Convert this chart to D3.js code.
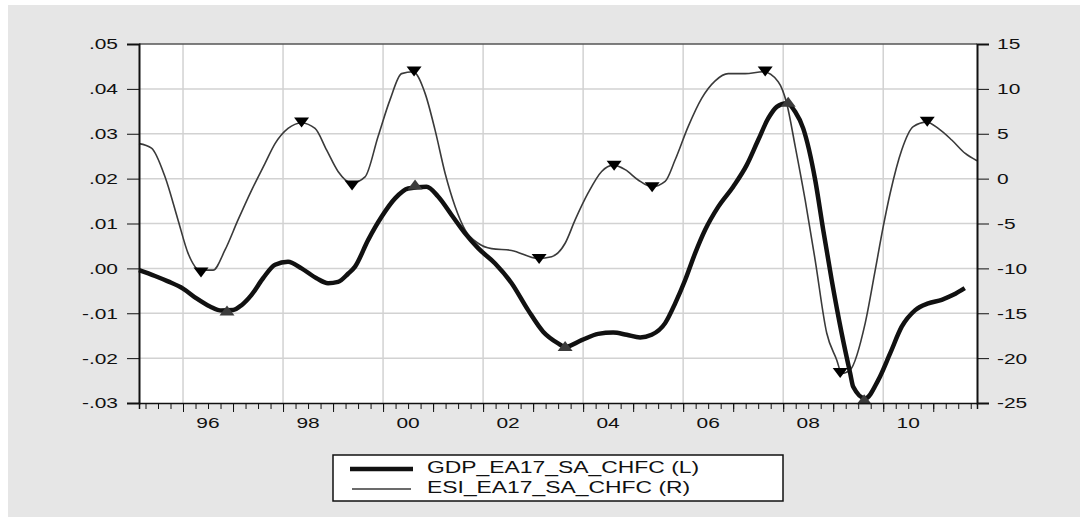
<!DOCTYPE html>
<html>
<head>
<meta charset="utf-8">
<script src="https://d3js.org/d3.v7.min.js"></script>
<style>
   body { margin: 0; background: #fff; }
   svg text { font-family: "Liberation Sans", Arial, sans-serif; fill: #111; }
   .grid line { stroke: #d2d2d2; stroke-width: 1.5; }
   .axis path, .axis line { stroke: #111; }
</style>
</head>
<body>
<script>
// GDP (left axis), decimal year / value
var gdpDates = [1995.12, 1995.44, 1995.7, 1996.0, 1996.27, 1996.54, 1996.77, 1997.0, 1997.17, 1997.37,
   1997.6, 1997.84, 1998.1, 1998.37, 1998.67, 1998.9, 1999.1, 1999.3, 1999.44, 1999.7,
   1999.97, 2000.24, 2000.5, 2000.87, 2001.1, 2001.37, 2001.64, 2001.9, 2002.24, 2002.57,
   2002.9, 2003.2, 2003.5, 2003.64, 2003.97, 2004.3, 2004.6, 2004.87, 2005.14, 2005.37,
   2005.64, 2005.84, 2006.04, 2006.24, 2006.44, 2006.7, 2007.0, 2007.27, 2007.5, 2007.7,
   2007.87, 2008.07, 2008.24, 2008.4, 2008.64, 2008.8, 2008.97, 2009.17, 2009.34, 2009.4,
   2009.64, 2009.9, 2010.14, 2010.37, 2010.64, 2010.9, 2011.17, 2011.4, 2011.63];
var gdpValues = [-0.0004, -0.0017, -0.0029, -0.0045, -0.0067, -0.0085, -0.0094, -0.0093, -0.0082, -0.0059,
   -0.0022, 0.0008, 0.0015, 0.0000, -0.0022, -0.0033, -0.0030, -0.0012, 0.0004, 0.0063,
   0.0115, 0.0156, 0.0178, 0.0182, 0.0160, 0.0119, 0.0078, 0.0045, 0.0011, -0.0033,
   -0.0093, -0.0141, -0.0167, -0.0175, -0.0160, -0.0146, -0.0143, -0.0148, -0.0154, -0.0148,
   -0.0122, -0.0078, -0.0026, 0.0034, 0.0086, 0.0137, 0.0182, 0.0230, 0.0286, 0.0334,
   0.0360, 0.0368, 0.0349, 0.0312, 0.0197, 0.0086, -0.0026, -0.0145, -0.0234, -0.0264,
   -0.0290, -0.0249, -0.0189, -0.0130, -0.0093, -0.0078, -0.0070, -0.0059, -0.0044];

// ESI (right axis)
var esiDates = [1995.12, 1995.37, 1995.64, 1995.9, 1996.1, 1996.34, 1996.6, 1996.84, 1997.1, 1997.37,
   1997.64, 1997.84, 1998.1, 1998.37, 1998.64, 1998.87, 1999.1, 1999.37, 1999.64, 1999.9,
   2000.14, 2000.37, 2000.6, 2000.84, 2001.04, 2001.24, 2001.44, 2001.64, 2001.9, 2002.17,
   2002.57, 2003.1, 2003.37, 2003.64, 2003.84, 2004.1, 2004.37, 2004.6, 2004.84, 2005.1,
   2005.37, 2005.64, 2005.84, 2006.1, 2006.37, 2006.64, 2006.9, 2007.24, 2007.6, 2007.9,
   2008.07, 2008.24, 2008.44, 2008.64, 2008.87, 2009.07, 2009.17, 2009.34, 2009.64, 2009.84,
   2010.0, 2010.14, 2010.37, 2010.6, 2010.87, 2011.1, 2011.37, 2011.64, 2011.875];
var esiValues = [3.9, 3.4, 0.2, -4.6, -8.3, -10.2, -10.2, -7.95, -4.6, -1.3,
   1.7, 3.9, 5.6, 6.2, 5.6, 3.2, 0.8, -0.5, 0.2, 4.7,
   8.8, 11.7, 11.9, 9.5, 5.4, 0.6, -3.1, -5.7, -7.2, -7.8,
   -8.0, -8.9, -8.7, -7.2, -4.6, -1.6, 0.8, 1.5, 1.0, -0.15,
   -0.9, -0.3, 2.1, 5.8, 8.95, 10.9, 11.7, 11.7, 11.9, 10.8,
   8.4, 3.6, -2.4, -9.1, -17.2, -20.2, -21.7, -21.3, -16.1, -10.2,
   -5.35, -1.6, 3.2, 5.8, 6.3, 5.6, 4.3, 2.8, 2.0];

// turning point markers
var esiTurnDates = [1996.36, 1998.37, 1999.38, 2000.62, 2003.12, 2004.62, 2005.38, 2007.64, 2009.14, 2010.88];
var esiTurnValues = [-10.4, 6.3, -0.7, 12.0, -8.9, 1.5, -0.9, 12.0, -21.6, 6.4];
var gdpTurnDates = [1996.88, 2000.64, 2003.64, 2008.1, 2009.62];
var gdpTurnValues = [-0.0095, 0.0186, -0.0174, 0.037, -0.0293];

// axis ticks
var leftTicks = [-0.03, -0.02, -0.01, 0, 0.01, 0.02, 0.03, 0.04, 0.05];
var rightTicks = [-25, -20, -15, -10, -5, 0, 5, 10, 15];
var yearTicks = d3.range(1996, 2012);
var yearLabels = ["96", "98", "00", "02", "04", "06", "08", "10"];
var legendLabels = ["GDP_EA17_SA_CHFC (L)", "ESI_EA17_SA_CHFC (R)"];

var W = 1089, H = 527;
var plot = { left: 139, right: 977, top: 44, bottom: 403 };
var stretch = 1.35; // eviews text is drawn wide

var x = d3.scaleLinear().domain([1995.12, 2011.875]).range([plot.left, plot.right]);
var yL = d3.scaleLinear().domain([-0.03, 0.05]).range([plot.bottom, plot.top]);
var yR = d3.scaleLinear().domain([-25, 15]).range([plot.bottom, plot.top]);

var fmtL = function(d) {
   var s = d3.format(".2f")(Math.abs(d)).replace(/^0/, "");
   return (d < -1e-9 ? "-" : "") + s;
};
var fmtR = function(d) {
   return (d < 0 ? "-" : "") + Math.abs(d);
};

var svg = d3
   .select("body")
   .append("svg")
   .attr("width", W)
   .attr("height", H);

// grey panel
svg.append("rect")
   .attr("x", 8).attr("y", 5)
   .attr("width", 1072).attr("height", 512)
   .attr("fill", "#e6e6e6");

// plot background
svg.append("rect")
   .attr("x", plot.left).attr("y", plot.top)
   .attr("width", plot.right - plot.left)
   .attr("height", plot.bottom - plot.top)
   .attr("fill", "#fff");

// gridlines
var grid = svg.append("g").attr("class", "grid");
grid.selectAll(".hg")
   .data(leftTicks.slice(1, -1))
   .enter()
   .append("line")
   .attr("x1", plot.left).attr("x2", plot.right)
   .attr("y1", function(d) { return yL(d); })
   .attr("y2", function(d) { return yL(d); });
grid.selectAll(".vg")
   .data(yearTicks.filter(function(d) { return d % 2 === 0; }))
   .enter()
   .append("line")
   .attr("y1", plot.top).attr("y2", plot.bottom)
   .attr("x1", function(d) { return x(d); })
   .attr("x2", function(d) { return x(d); });

// top frame line
svg.append("line")
   .attr("x1", plot.left).attr("x2", plot.right)
   .attr("y1", plot.top).attr("y2", plot.top)
   .attr("stroke", "#555").attr("stroke-width", 1.5);

// lines
var esiData = esiDates.map(function(d, i) { return { t: d, v: esiValues[i] }; });
var gdpData = gdpDates.map(function(d, i) { return { t: d, v: gdpValues[i] }; });

var esiLine = d3.line()
   .x(function(d) { return x(d.t); })
   .y(function(d) { return yR(d.v); })
   .curve(d3.curveMonotoneX);
var gdpLine = d3.line()
   .x(function(d) { return x(d.t); })
   .y(function(d) { return yL(d.v); })
   .curve(d3.curveMonotoneX);

svg.append("path")
   .datum(esiData)
   .attr("d", esiLine)
   .attr("fill", "none")
   .attr("stroke", "#3a3a3a")
   .attr("stroke-width", 1.6);

svg.append("path")
   .datum(gdpData)
   .attr("d", gdpLine)
   .attr("fill", "none")
   .attr("stroke", "#111")
   .attr("stroke-width", 4.5)
   .attr("stroke-linejoin", "round");

// markers: down triangles on ESI, up triangles on GDP
var tri = function(up) {
   return up ? "M0,-5.5L7.5,4.5L-7.5,4.5Z" : "M0,5.5L7.5,-4.5L-7.5,-4.5Z";
};
svg.selectAll(".esiMark")
   .data(esiTurnDates)
   .enter()
   .append("path")
   .attr("d", tri(false))
   .attr("fill", "#000")
   .attr("transform", function(d, i) {
      return "translate(" + x(d) + "," + yR(esiTurnValues[i]) + ")";
   });
svg.selectAll(".gdpMark")
   .data(gdpTurnDates)
   .enter()
   .append("path")
   .attr("d", tri(true))
   .attr("fill", "#3c3c3c")
   .attr("transform", function(d, i) {
      return "translate(" + x(d) + "," + yL(gdpTurnValues[i]) + ")";
   });

// left axis
var axL = svg.append("g")
   .attr("class", "axis")
   .attr("transform", "translate(" + plot.left + ",0)")
   .call(d3.axisLeft(yL).tickValues(leftTicks).tickFormat(fmtL).tickSize(12).tickPadding(9));
axL.select(".domain").attr("stroke-width", 2);

// right axis
var axR = svg.append("g")
   .attr("class", "axis")
   .attr("transform", "translate(" + plot.right + ",0)")
   .call(d3.axisRight(yR).tickValues(rightTicks).tickFormat(fmtR).tickSize(12).tickPadding(8));
axR.select(".domain").attr("stroke-width", 2);

svg.selectAll(".axis text").style("font-size", "15.5px");

// bottom axis: quarter ticks, year ticks, labels
var quarterTicks = d3.range(1995.25, 2011.8, 0.25);
var axB = svg.append("g")
   .attr("class", "axis")
   .attr("transform", "translate(0," + plot.bottom + ")")
   .call(d3.axisBottom(x).tickValues(quarterTicks).tickFormat("").tickSizeOuter(0).tickSize(6));
axB.select(".domain").attr("stroke-width", 1.5);

svg.append("g")
   .attr("class", "axis")
   .attr("transform", "translate(0," + plot.bottom + ")")
   .call(d3.axisBottom(x).tickValues(yearTicks).tickFormat("").tickSizeOuter(0).tickSize(9))
   .select(".domain").remove();

svg.append("g")
   .selectAll("text")
   .data(yearLabels)
   .enter()
   .append("text")
   .attr("x", function(d, i) { return x(1996 + 2 * i + 0.5); })
   .attr("y", 428)
   .attr("text-anchor", "middle")
   .style("font-size", "15.5px")
   .text(function(d) { return d; });

// widen every label the way the original renderer does
svg.selectAll("text").each(function() {
   var w = this.getComputedTextLength();
   d3.select(this)
      .attr("textLength", w * stretch)
      .attr("lengthAdjust", "spacingAndGlyphs");
});

// legend
var legend = svg.append("g");
legend.append("rect")
   .attr("x", 333).attr("y", 455)
   .attr("width", 450).attr("height", 46)
   .attr("fill", "#fff")
   .attr("stroke", "#111")
   .attr("stroke-width", 1.5);
legend.append("line")
   .attr("x1", 350).attr("x2", 413)
   .attr("y1", 469).attr("y2", 469)
   .attr("stroke", "#111").attr("stroke-width", 4.5);
legend.append("line")
   .attr("x1", 352).attr("x2", 411)
   .attr("y1", 489).attr("y2", 489)
   .attr("stroke", "#3a3a3a").attr("stroke-width", 1.6);
legend.selectAll(".lt")
   .data(legendLabels)
   .enter()
   .append("text")
   .attr("x", 427)
   .attr("y", function(d, i) { return 473 + i * 20; })
   .style("font-size", "16px")
   .text(function(d) { return d; })
   .each(function() {
      var w = this.getComputedTextLength();
      d3.select(this)
         .attr("textLength", w * 1.43)
         .attr("lengthAdjust", "spacingAndGlyphs");
   });
</script>
</body>
</html>
